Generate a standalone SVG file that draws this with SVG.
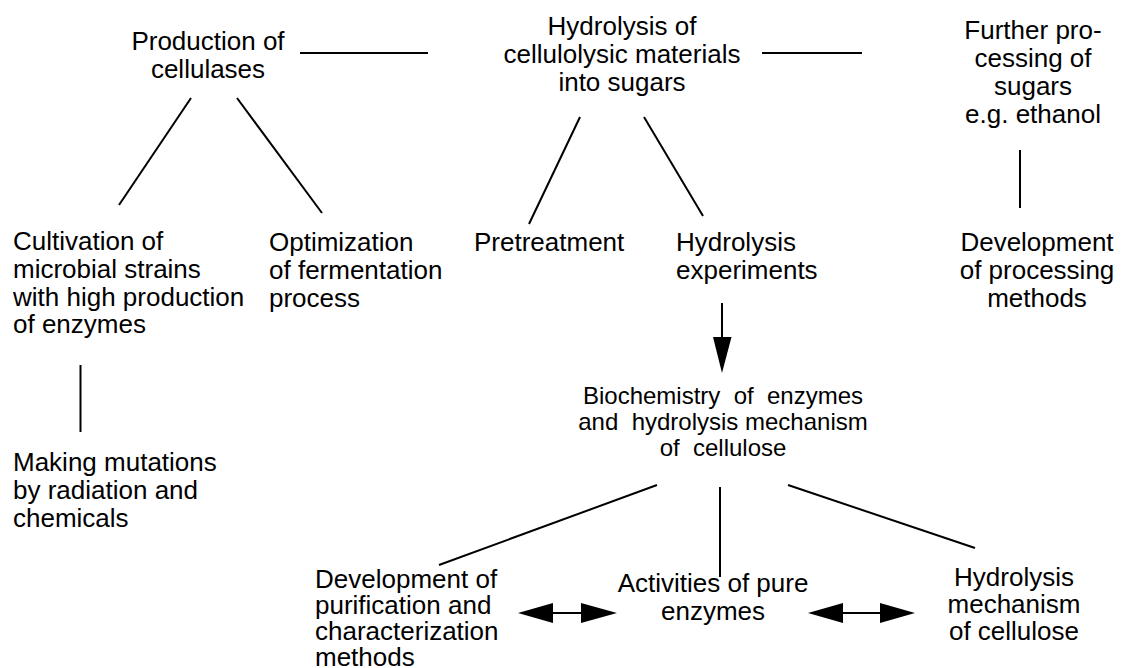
<svg xmlns="http://www.w3.org/2000/svg" width="1128" height="668" viewBox="0 0 1128 668">
<style>
text{font-family:"Liberation Sans",Arial,sans-serif;font-size:26px;fill:#000}
.c{text-anchor:middle}
.s{font-size:24px}
.ln{stroke:#000;stroke-width:2;fill:none}
.ah{fill:#000;stroke:none}
</style>
<rect width="1128" height="668" fill="#fff"/>
<g id="connectors">
<line class="ln" x1="300" y1="53" x2="428" y2="53"/>
<line class="ln" x1="762" y1="53" x2="862" y2="53"/>
<line class="ln" x1="191" y1="98" x2="119" y2="205"/>
<line class="ln" x1="237" y1="98" x2="322" y2="213"/>
<line class="ln" x1="580" y1="117" x2="529" y2="224"/>
<line class="ln" x1="644" y1="117" x2="703" y2="216"/>
<line class="ln" x1="1020" y1="150" x2="1020" y2="208"/>
<line class="ln" x1="80.5" y1="365" x2="80.5" y2="432"/>
<line class="ln" x1="722" y1="303" x2="722" y2="340"/>
<polygon class="ah" points="713,337 731.5,337 722,373"/>
<line class="ln" x1="657" y1="485" x2="439" y2="565"/>
<line class="ln" x1="720" y1="487" x2="720" y2="577"/>
<line class="ln" x1="788" y1="485" x2="975" y2="548"/>
<line class="ln" x1="553" y1="613" x2="581" y2="613"/>
<polygon class="ah" points="518,613 553,603 553,623"/>
<polygon class="ah" points="581,603 581,623 617,613"/>
<line class="ln" x1="843" y1="613" x2="880" y2="613"/>
<polygon class="ah" points="808,613 843,603 843,623"/>
<polygon class="ah" points="880,603 880,623 915,613"/>
</g>
<g id="production">
<text class="c" x="208" y="50">Production of</text>
<text class="c" x="208" y="78">cellulases</text>
</g>
<g id="hydrolysis">
<text class="c" x="622" y="35">Hydrolysis of</text>
<text class="c" x="622" y="63">cellulolysic materials</text>
<text class="c" x="622" y="91">into sugars</text>
</g>
<g id="further">
<text class="c" x="1033" y="39">Further pro-</text>
<text class="c" x="1033" y="67">cessing of</text>
<text class="c" x="1033" y="95">sugars</text>
<text class="c" x="1033" y="123">e.g. ethanol</text>
</g>
<g id="cultivation">
<text x="13" y="250">Cultivation of</text>
<text x="13" y="278">microbial strains</text>
<text x="13" y="306">with high production</text>
<text x="13" y="333">of enzymes</text>
</g>
<g id="mutations">
<text x="13" y="471">Making mutations</text>
<text x="13" y="499">by radiation and</text>
<text x="13" y="527">chemicals</text>
</g>
<g id="optimization">
<text x="269" y="251">Optimization</text>
<text x="269" y="279">of fermentation</text>
<text x="269" y="307">process</text>
</g>
<g id="pretreatment">
<text x="474" y="251">Pretreatment</text>
</g>
<g id="experiments">
<text x="676" y="251">Hydrolysis</text>
<text x="676" y="279">experiments</text>
</g>
<g id="processing">
<text class="c" x="1037" y="251">Development</text>
<text class="c" x="1037" y="279">of processing</text>
<text class="c" x="1037" y="307">methods</text>
</g>
<g id="biochemistry">
<text class="c s" x="723" y="404" xml:space="preserve">Biochemistry  of  enzymes</text>
<text class="c s" x="723" y="430" xml:space="preserve">and  hydrolysis mechanism</text>
<text class="c s" x="723" y="456" xml:space="preserve">of  cellulose</text>
</g>
<g id="purification">
<text x="315" y="588">Development of</text>
<text x="315" y="614">purification and</text>
<text x="315" y="640">characterization</text>
<text x="315" y="666">methods</text>
</g>
<g id="activities">
<text class="c" x="713" y="592">Activities of pure</text>
<text class="c" x="713" y="620">enzymes</text>
</g>
<g id="mechanism">
<text class="c" x="1014" y="586">Hydrolysis</text>
<text class="c" x="1014" y="613">mechanism</text>
<text class="c" x="1014" y="640">of cellulose</text>
</g>
</svg>
